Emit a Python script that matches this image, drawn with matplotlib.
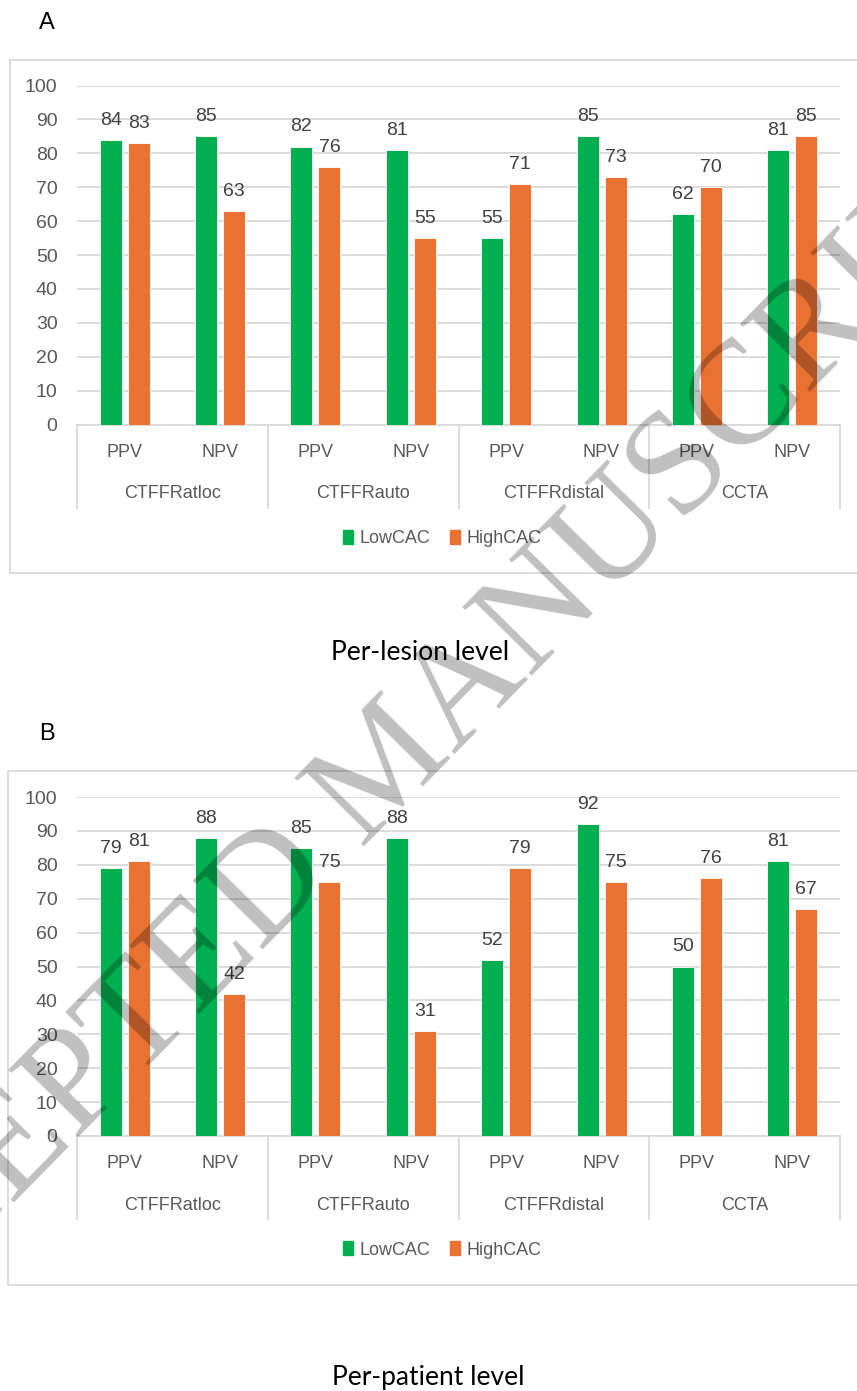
import numpy as np
import matplotlib
matplotlib.use("Agg")
import matplotlib.pyplot as plt
from matplotlib.patches import Rectangle, Patch
from matplotlib import transforms

# figure size in pixels (dpi 100)
W, H = 857, 1391

groups = ["CTFFRatloc", "CTFFRauto", "CTFFRdistal", "CCTA"]
metrics = ["PPV", "NPV"]

# per-lesion values (PPV, NPV for each method)
lesion_low = [84, 85, 82, 81, 55, 85, 62, 81]
lesion_high = [83, 63, 76, 55, 71, 73, 70, 85]

# per-patient values
patient_low = [79, 88, 85, 88, 52, 92, 50, 81]
patient_high = [81, 42, 75, 31, 79, 75, 76, 67]

yticks = list(range(0, 101, 10))

GREEN = "#00b050"
ORANGE = "#e97132"
GRID = "#d9d9d9"
TXT = "#595959"
LBL = "#404040"

plt.rcParams["font.family"] = ["Liberation Sans", "DejaVu Sans"]

fig = plt.figure(figsize=(W / 100, H / 100), dpi=100)


def px_axes(left, top, right, bottom):
    return fig.add_axes([left / W, 1 - bottom / H, (right - left) / W, (bottom - top) / H])


def draw_panel(letter, box_left, box_top, box_bottom, ax_top, ax_bottom, low, high, title, title_y, title_x):
    # outer chart frame (runs off the right edge)
    fig.patches.append(Rectangle((box_left / W, 1 - box_bottom / H), (W + 20 - box_left) / W,
                                 (box_bottom - box_top) / H, transform=fig.transFigure,
                                 fill=False, edgecolor=GRID, lw=1.3))
    fig.text(39 / W, 1 - (box_top - 37) / H, letter, fontsize=17, ha="left", va="center", color="black")

    ax = px_axes(77, ax_top, 840, ax_bottom)
    x = np.arange(len(low))
    w = 0.23
    b1 = ax.bar(x - 0.147, low, width=w, color=GREEN, edgecolor="white", linewidth=0.6, zorder=3)
    b2 = ax.bar(x + 0.147, high, width=w, color=ORANGE, edgecolor="white", linewidth=0.6, zorder=3)
    ax.bar_label(b1, padding=8, fontsize=14, color=LBL)
    ax.bar_label(b2, padding=8, fontsize=14, color=LBL)

    ax.set_xlim(-0.5, len(low) - 0.5)
    ax.set_ylim(0, 100)
    ax.set_yticks(yticks)
    ax.yaxis.grid(True, color=GRID, lw=1.3, zorder=0)
    ax.tick_params(axis="y", length=0, pad=14, labelsize=14, labelcolor=TXT)
    ax.set_xticks([])
    for s in ["top", "right", "left"]:
        ax.spines[s].set_visible(False)
    ax.spines["bottom"].set_color(GRID)
    ax.spines["bottom"].set_linewidth(1.3)

    # two-level category axis
    h = ax_bottom - ax_top
    trans = transforms.blended_transform_factory(ax.transData, ax.transAxes)
    for i, g in enumerate(groups):
        for j, m in enumerate(metrics):
            ax.text(2 * i + j, -28 / h, m, transform=trans, ha="center", va="center",
                    fontsize=13, color=TXT, clip_on=False)
        ax.text(2 * i + 0.5, -69 / h, g, transform=trans, ha="center", va="center",
                fontsize=13, color=TXT, clip_on=False)
    for xd in np.arange(-0.5, len(low), 2):
        ax.plot([xd, xd], [0, -83 / h], transform=trans, color=GRID, lw=1.3, clip_on=False)

    handles = [Patch(color=GREEN, label="LowCAC"), Patch(color=ORANGE, label="HighCAC")]
    fig.legend(handles=handles, loc="center", bbox_to_anchor=(442 / W, 1 - (ax_bottom + 114) / H),
               ncol=2, frameon=False, fontsize=13, labelcolor=TXT, handlelength=0.55,
               handleheight=0.8, handletextpad=0.35, columnspacing=1.1)

    fig.text(title_x / W, 1 - title_y / H, title, fontsize=19, ha="center", va="center",
             color="black", family=["Lato", "DejaVu Sans"])


draw_panel("A", 10, 60, 573, 85.5, 424.5, lesion_low, lesion_high, "Per-lesion level", 653, 420)
draw_panel("B", 8, 771, 1285, 797, 1136, patient_low, patient_high, "Per-patient level", 1377, 428)

# diagonal watermark
fig.text(390 / W, 1 - 770 / H, "ACCEPTED MANUSCRIPT", fontsize=107, rotation=45.5,
         rotation_mode="anchor", ha="center", va="center", color="black", alpha=0.25,
         family=["Liberation Serif", "DejaVu Serif"], zorder=10)

fig.savefig("out.png", dpi=100)
